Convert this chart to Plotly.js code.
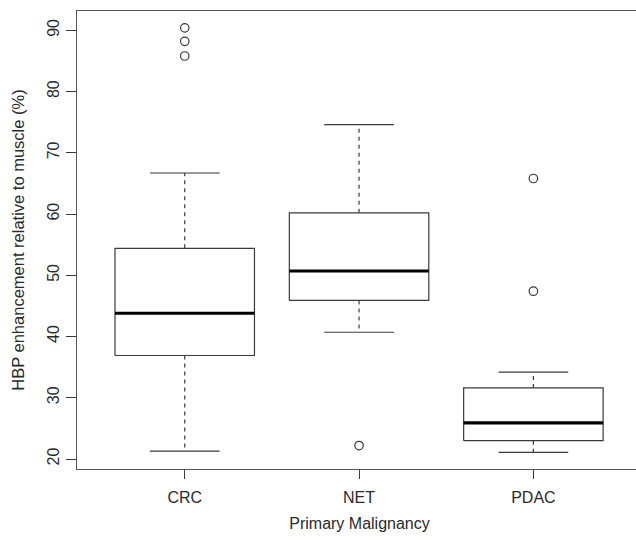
<!DOCTYPE html>
<html>
<head>
<meta charset="utf-8">
<script src="https://cdn.plot.ly/plotly-3.0.1.min.js"></script>
<style>
html, body { margin: 0; padding: 0; overflow: hidden; background: #fff; }
#chart { width: 642px; height: 541px; }
</style>
</head>
<body>
<div id="chart"></div>
<script>
// Data
const categories = ['CRC', 'NET', 'PDAC'];
const lowerWhisker = [21.3, 40.7, 21.1];
const q1Values = [36.9, 45.9, 23.0];
const medianValues = [43.8, 50.7, 25.9];
const q3Values = [54.4, 60.2, 31.6];
const upperWhisker = [66.7, 74.6, 34.2];
const outliersCRC = [90.4, 88.2, 85.8];
const outliersNET = [22.2];
const outliersPDAC = [65.8, 47.4];
const outlierSets = [outliersCRC, outliersNET, outliersPDAC];

const BOX_HALF = 0.4, CAP_HALF = 0.2;
const lineCol = '#3a3a3a';
const traces = [];

categories.forEach((cat, i) => {
  const p = i + 1;
  // whiskers (dashed)
  traces.push({
    type: 'scatter', mode: 'lines', hoverinfo: 'skip', showlegend: false,
    x: [p, p, null, p, p],
    y: [q3Values[i], upperWhisker[i], null, q1Values[i], lowerWhisker[i]],
    line: { color: lineCol, width: 1.2, dash: '4px,4px' }
  });
  // caps
  traces.push({
    type: 'scatter', mode: 'lines', hoverinfo: 'skip', showlegend: false,
    x: [p - CAP_HALF, p + CAP_HALF, null, p - CAP_HALF, p + CAP_HALF],
    y: [upperWhisker[i], upperWhisker[i], null, lowerWhisker[i], lowerWhisker[i]],
    line: { color: lineCol, width: 1.2 }
  });
  // box
  traces.push({
    type: 'scatter', mode: 'lines', hoverinfo: 'skip', showlegend: false,
    x: [p - BOX_HALF, p + BOX_HALF, p + BOX_HALF, p - BOX_HALF, p - BOX_HALF],
    y: [q1Values[i], q1Values[i], q3Values[i], q3Values[i], q1Values[i]],
    fill: 'toself', fillcolor: '#ffffff',
    line: { color: lineCol, width: 1.2 }
  });
  // median
  traces.push({
    type: 'scatter', mode: 'lines', hoverinfo: 'skip', showlegend: false,
    x: [p - BOX_HALF, p + BOX_HALF],
    y: [medianValues[i], medianValues[i]],
    line: { color: '#000000', width: 3.2 }
  });
  // outliers
  traces.push({
    type: 'scatter', mode: 'markers', hoverinfo: 'y', showlegend: false,
    x: outlierSets[i].map(() => p),
    y: outlierSets[i],
    marker: { symbol: 'circle-open', size: 8.5, color: lineCol, line: { width: 1.2, color: lineCol } }
  });
});

const font = { family: '"Liberation Sans", Arial, Helvetica, sans-serif', size: 16, color: '#2a2a2a' };

const layout = {
  width: 642, height: 541,
  margin: { l: 77, r: 0, t: 11, b: 72, pad: 0 },
  paper_bgcolor: '#ffffff', plot_bgcolor: '#ffffff',
  font: font,
  showlegend: false,
  xaxis: {
    range: [0.382, 3.623],
    tickvals: categories.map((c, i) => i + 1),
    ticktext: categories,
    ticks: 'outside', ticklen: 9, tickwidth: 1, tickcolor: lineCol,
    ticklabelstandoff: 4,
    showline: true, linecolor: '#555', linewidth: 1.4, mirror: true,
    showgrid: false, zeroline: false,
    tickfont: font,
    title: { text: 'Primary Malignancy', font: font, standoff: 13 }
  },
  yaxis: {
    range: [18.37, 93.15],
    tickvals: [20, 30, 40, 50, 60, 70, 80, 90],
    ticks: 'outside', ticklen: 10, tickwidth: 1, tickcolor: lineCol,
    tickangle: -90,
    showline: true, linecolor: '#555', linewidth: 1.4, mirror: true,
    showgrid: false, zeroline: false,
    tickfont: font,
    title: { text: 'HBP enhancement relative to muscle (%)', font: { family: font.family, size: 16.5, color: font.color }, standoff: 16 }
  }
};

Plotly.newPlot('chart', traces, layout, { displayModeBar: false, staticPlot: true });
</script>
</body>
</html>
